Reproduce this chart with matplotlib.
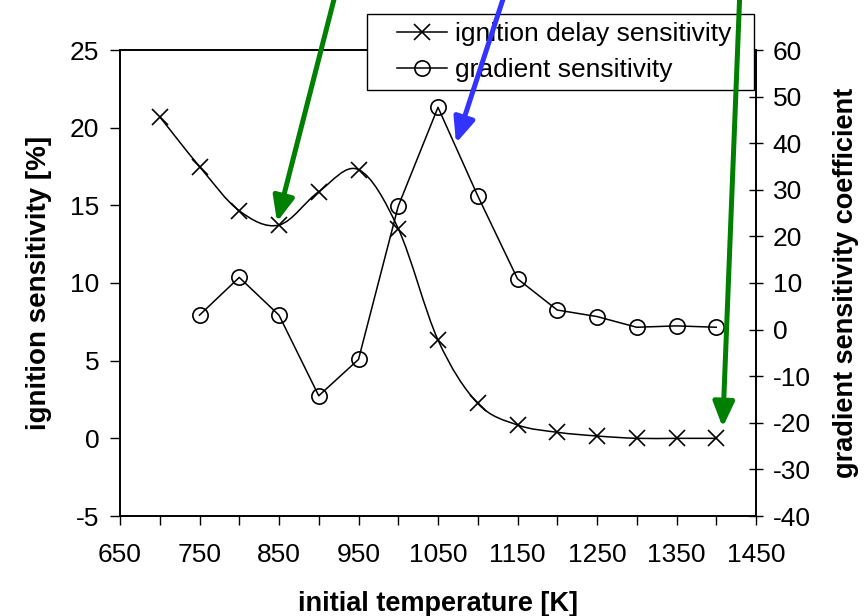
import numpy as np
import matplotlib
matplotlib.use("Agg")
import matplotlib.pyplot as plt
from matplotlib.path import Path
from matplotlib.patches import PathPatch
from matplotlib.lines import Line2D
from matplotlib.legend_handler import HandlerLine2D

# ---- data ----
temp_ign = [700, 750, 800, 850, 900, 950, 1000, 1050, 1100, 1150, 1200, 1250, 1300, 1350, 1400]
ign_sens = [20.7, 17.5, 14.65, 13.73, 15.88, 17.3, 13.5, 6.33, 2.25, 0.86, 0.39, 0.15, 0.0, 0.0, 0.0]

temp_grad = [750, 800, 850, 900, 950, 1000, 1050, 1100, 1150, 1200, 1250, 1300, 1350, 1400]
grad_sens = [3.1, 11.2, 3.1, -14.2, -6.4, 26.5, 47.7, 28.7, 10.9, 4.2, 2.8, 0.5, 0.8, 0.5]

x_ticks = [650, 750, 850, 950, 1050, 1150, 1250, 1350, 1450]
left_ticks = [-5, 0, 5, 10, 15, 20, 25]
right_ticks = [-40, -30, -20, -10, 0, 10, 20, 30, 40, 50, 60]

labels = ["ignition delay sensitivity", "gradient sensitivity"]
xlabel = "initial temperature [K]"
ylabel_left = "ignition sensitivity [%]"
ylabel_right = "gradient sensitivity coefficient"

# arrows: (start, tip) in data coords of the left axis
arrows = [
    ((922.9, 29.0), (847.5, 13.93), "#008000"),
    ((1136.4, 29.0), (1072.6, 19.0), "#3333FF"),
    ((1429.9, 29.0), (1408.1, 0.71), "#008000"),
]

plt.rcParams["font.family"] = ["Liberation Sans", "DejaVu Sans"]
plt.rcParams["axes.unicode_minus"] = False
FS = 19

fig = plt.figure(figsize=(8.68, 6.16), dpi=100)
ax = fig.add_axes([120 / 868, 1 - 516 / 616, 636 / 868, 466 / 616])
ax2 = ax.twinx()

ax.set_xlim(650, 1450)
ax.set_ylim(-5, 25)
ax2.set_ylim(-40, 60)

# smooth (Excel-like) curve through the ignition points
pts = np.column_stack([temp_ign, ign_sens]).astype(float)
n = len(pts)
verts = [pts[0]]
codes = [Path.MOVETO]
for i in range(n - 1):
    p0 = pts[i - 1] if i > 0 else pts[i]
    p1 = pts[i]
    p2 = pts[i + 1]
    p3 = pts[i + 2] if i + 2 < n else pts[i + 1]
    c1 = p1 + (p2 - p0) / 6.0
    c2 = p2 - (p3 - p1) / 6.0
    verts += [c1, c2, p2]
    codes += [Path.CURVE4] * 3
ax.add_patch(PathPatch(Path(verts, codes), facecolor="none", edgecolor="black",
                       lw=1.1, transform=ax.transData))
ax.plot(temp_ign, ign_sens, ls="none", marker="x", ms=11, mew=1.2, color="black")

ax2.plot(temp_grad, grad_sens, color="black", lw=1.1, marker="o", ms=11,
         mfc="none", mec="black", mew=1.2)

# ticks
ax.set_xticks(x_ticks)
ax.set_xticks([t + 50 for t in x_ticks[:-1]], minor=True)
ax.set_yticks(left_ticks)
ax2.set_yticks(right_ticks)
ax.tick_params(axis="x", which="both", direction="out", length=6.5, width=1.0,
               labelsize=FS, pad=13)
ax.tick_params(axis="y", direction="out", length=7, width=1.0, labelsize=FS, pad=8)
ax2.tick_params(axis="y", direction="inout", length=10, width=1.0, labelsize=FS, pad=7)

for a in (ax, ax2):
    for s in a.spines.values():
        s.set_linewidth(1.2)

ax.set_xlabel(xlabel, fontsize=FS + 0.5, fontweight="bold", labelpad=17)
ax.set_ylabel(ylabel_left, fontsize=FS + 1, fontweight="bold", labelpad=13)
ax2.set_ylabel(ylabel_right, fontsize=FS + 0.5, fontweight="bold", labelpad=16)

# legend
h1 = Line2D([], [], color="black", lw=1.1, marker="x", ms=11, mew=1.2)
h2 = Line2D([], [], color="black", lw=1.1, marker="o", ms=11, mfc="none", mew=1.2)
leg = ax2.legend([h1, h2], [labels[0] + "  ", labels[1]], loc="upper left",
                 bbox_to_anchor=((367 - 120) / 636, (516 - 14) / 466),
                 bbox_transform=ax.transAxes, borderaxespad=0, fontsize=FS,
                 frameon=True, fancybox=False, framealpha=1, edgecolor="black",
                 numpoints=1, handlelength=2.73, handletextpad=0.3, borderpad=0.3,
                 labelspacing=0.45,
                 handler_map={h1: HandlerLine2D(xpad=0.85), h2: HandlerLine2D(xpad=0.85)})
leg.get_frame().set_linewidth(1.0)
leg.set_zorder(5)

for start, tip, col in arrows:
    ann = ax2.annotate("", xy=tip, xytext=start, xycoords=ax.transData,
                       textcoords=ax.transData, annotation_clip=False,
                       arrowprops=dict(arrowstyle="-|>,head_length=0.75,head_width=0.32",
                                       mutation_scale=20, lw=3.6, color=col,
                                       shrinkA=0, shrinkB=0))
    ann.set_zorder(10)

fig.savefig("out.png", dpi=100)
